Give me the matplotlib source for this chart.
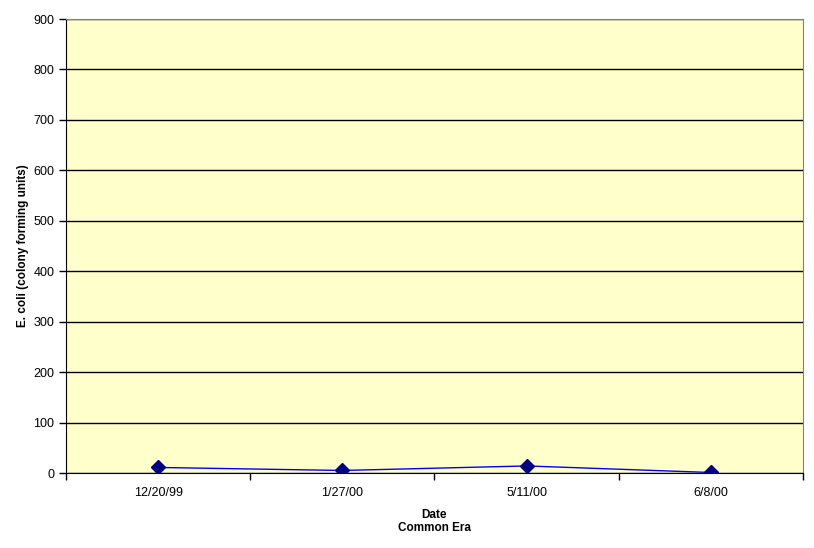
import matplotlib.pyplot as plt
import numpy as np

dates = ['12/20/99', '1/27/00', '5/11/00', '6/8/00']
ecoli = [11, 5, 14, 1]
y_ticks = list(range(0, 1000, 100))

plt.rcParams['font.family'] = ['Liberation Sans', 'DejaVu Sans']

fig = plt.figure(figsize=(8.14, 5.48), dpi=100)
ax = fig.add_axes([66 / 814, 1 - 473 / 548, (803 - 66) / 814, (473 - 19) / 548])
ax.set_facecolor('#FFFFCC')

x = np.arange(len(dates))
ax.plot(x, ecoli, color='#0000FF', linewidth=1, marker='D', markersize=7,
        markerfacecolor='#000080', markeredgecolor='#000080', zorder=3)

ax.set_ylim(0, 900)
ax.set_yticks(y_ticks)
ax.yaxis.grid(True, color='black', linewidth=1)
ax.set_axisbelow(True)
ax.tick_params(axis='y', direction='out', length=5, labelsize=9, width=1)

# category axis: ticks between categories, labels centred
ax.set_xlim(-0.5, len(dates) - 0.5)
ax.set_xticks(np.arange(-0.5, len(dates), 1.0))
ax.set_xticklabels([])
ax.set_xticks(x, minor=True)
ax.set_xticklabels(dates, minor=True)
ax.tick_params(axis='x', which='major', direction='out', length=5, width=1)
ax.tick_params(axis='x', which='minor', length=0, labelsize=9, pad=10)

for side in ['top', 'right']:
    ax.spines[side].set_color('#808080')
for side in ['left', 'bottom']:
    ax.spines[side].set_color('black')

ax.set_xlabel('Date\nCommon Era', fontsize=8.5, fontweight='bold', labelpad=7)
ax.set_ylabel('E. coli (colony forming units)', fontsize=8.5, fontweight='bold', labelpad=3)

fig.savefig('out.png', dpi=100)
